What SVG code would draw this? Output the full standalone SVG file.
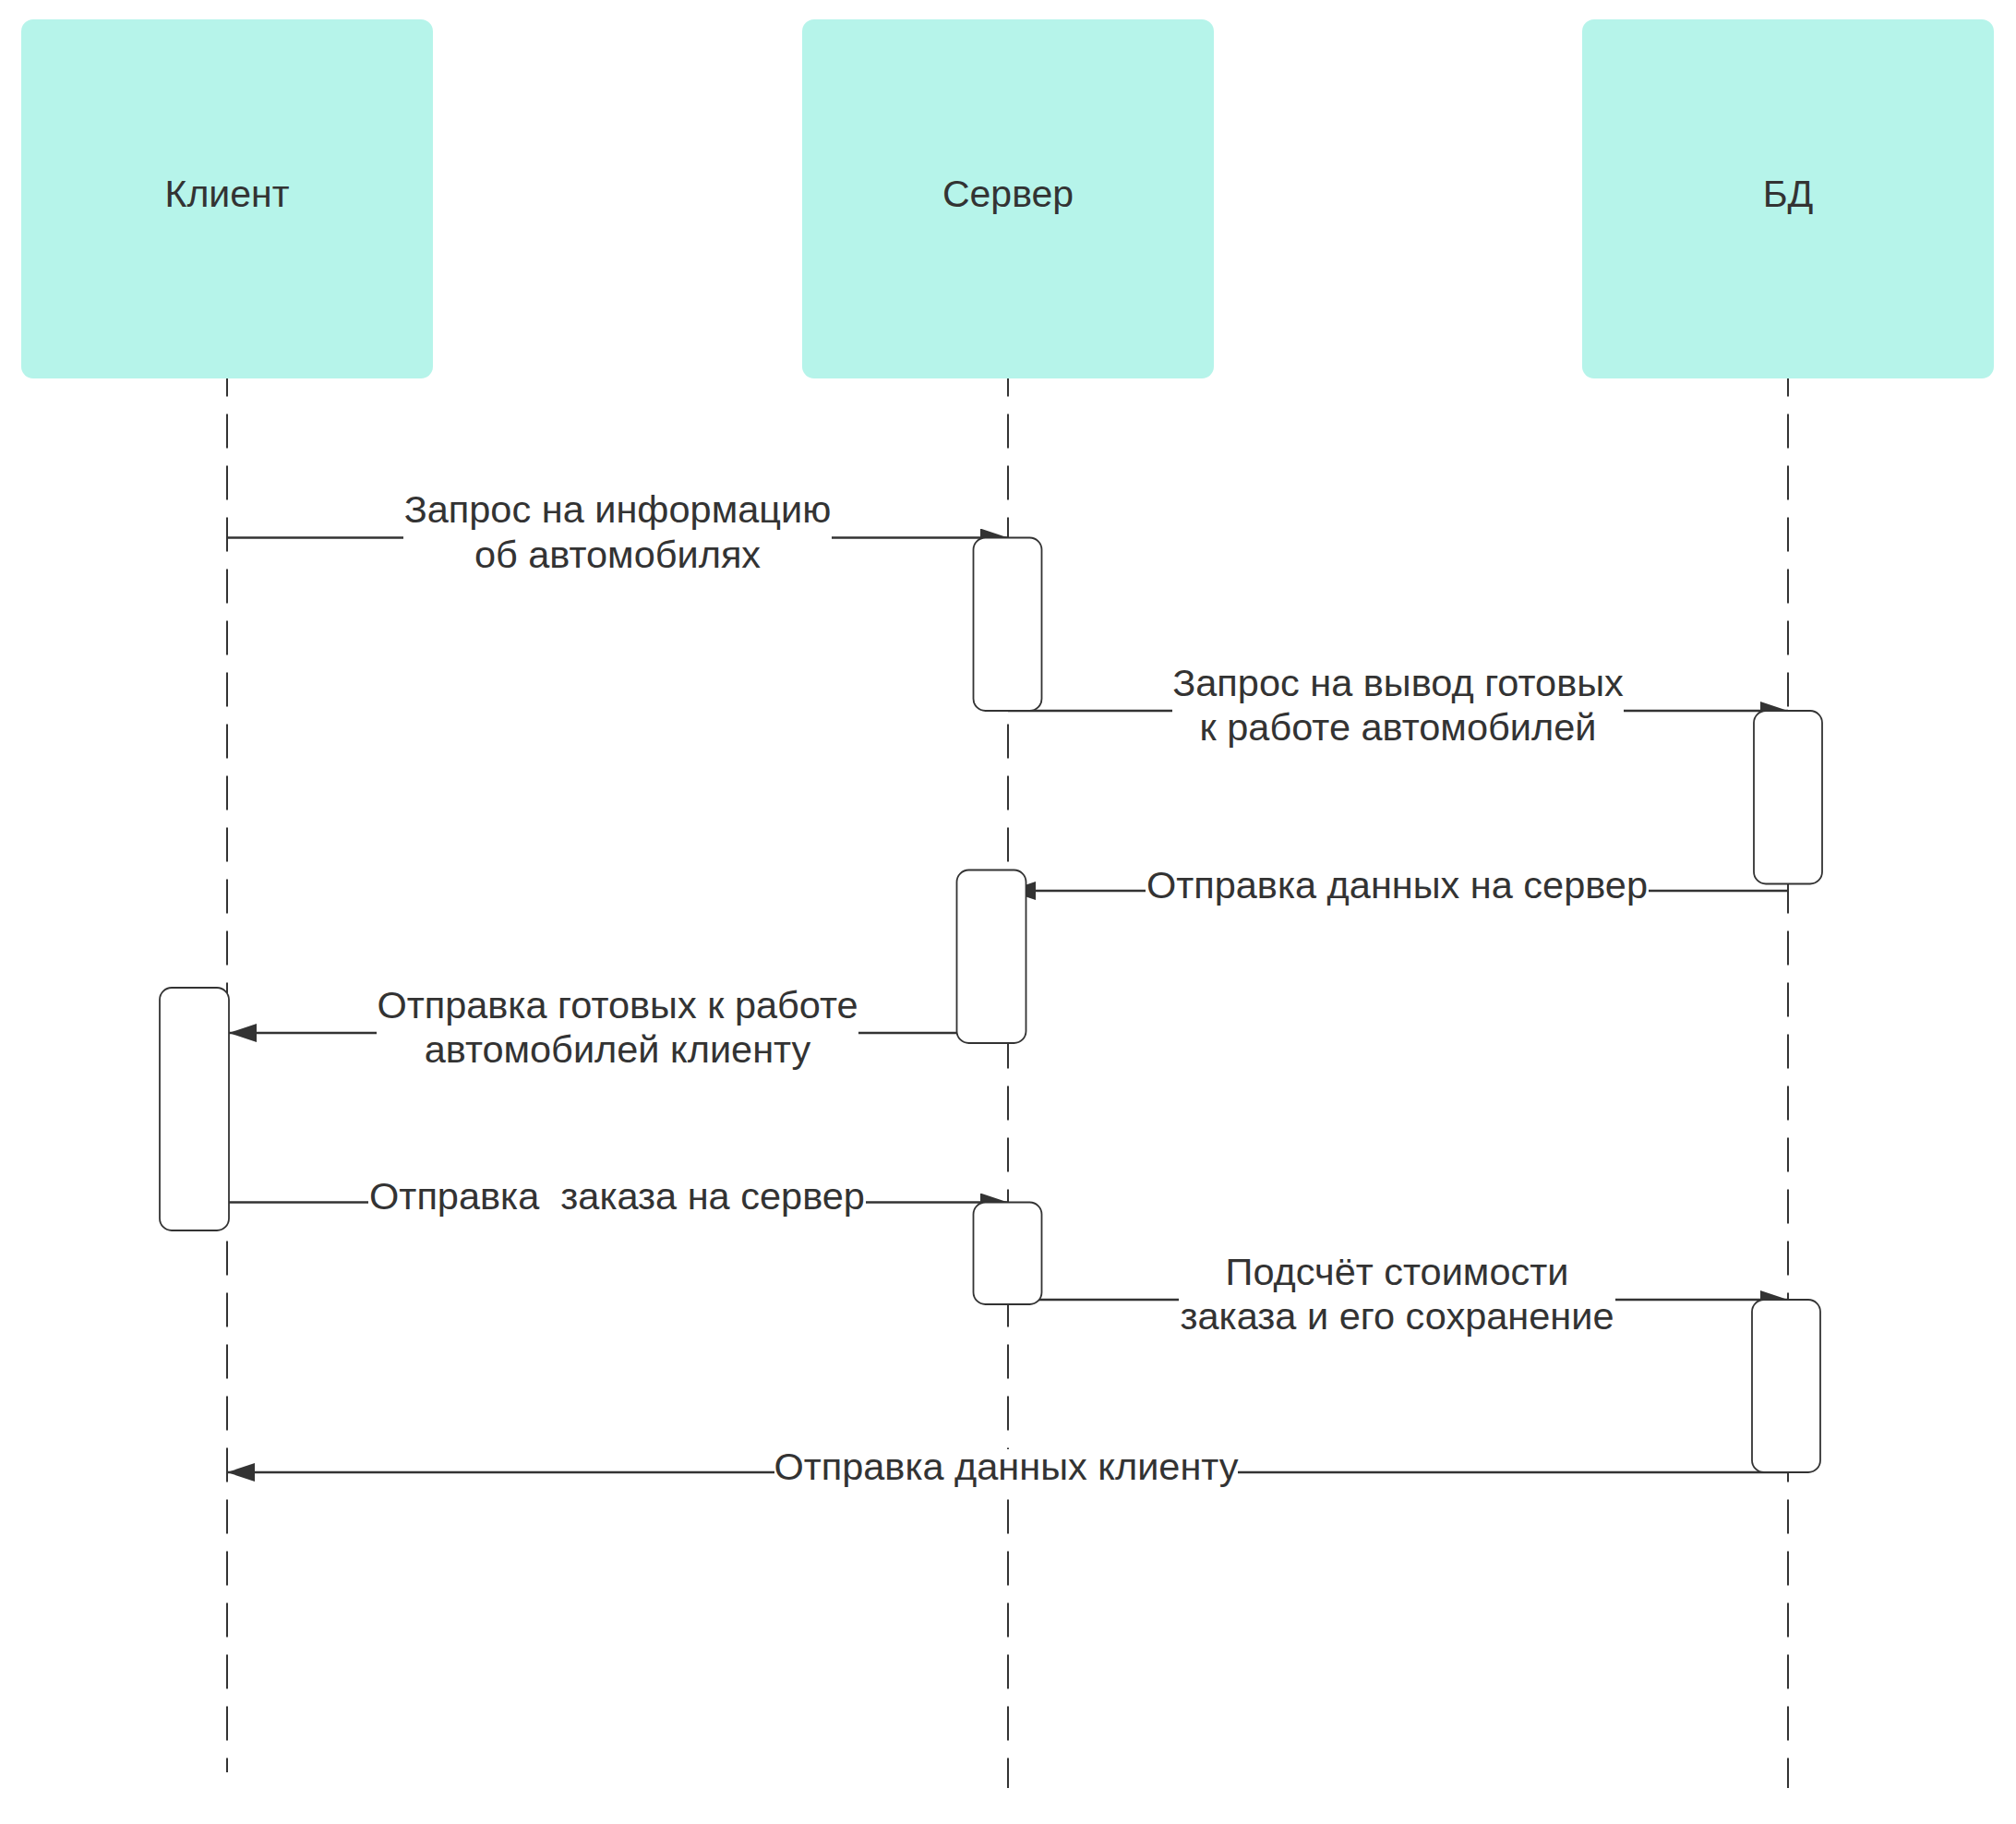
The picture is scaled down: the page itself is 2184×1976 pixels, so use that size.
<svg xmlns="http://www.w3.org/2000/svg" width="2184" height="1976" viewBox="0 0 2184 1976">
  <style>
    .head { fill: #b6f4ea; }
    .title { font-family: "Liberation Sans", Arial, sans-serif; font-size: 41px; fill: #333333; text-anchor: middle; }
    .lbl { font-family: "Liberation Sans", Arial, sans-serif; font-size: 41.5px; fill: #333333; text-anchor: middle; }
    .life { stroke: #333333; stroke-width: 2; stroke-dasharray: 37 19; stroke-dashoffset: 17.5; fill: none; }
    .msg { stroke: #333333; stroke-width: 2.7; fill: none; marker-end: url(#arr); }
    .act { fill: #ffffff; stroke: #333333; stroke-width: 1.8; }
    .bg { fill: #ffffff; }
  </style>
  <defs>
    <marker id="arr" markerUnits="userSpaceOnUse" markerWidth="30" markerHeight="20" refX="30" refY="10" orient="auto">
      <path d="M0,0 L30,10 L0,20 Z" fill="#333333"/>
    </marker>
  </defs>
  <rect width="2184" height="1976" fill="#ffffff"/>

  <g id="client">
    <rect class="head" x="23" y="21" width="446" height="389" rx="13" ry="13"/>
    <text class="title" x="246" y="224">Клиент</text>
    <line class="life" x1="246" y1="410" x2="246" y2="1920"/>
  </g>
  <g id="server">
    <rect class="head" x="869" y="21" width="446" height="389" rx="13" ry="13"/>
    <text class="title" x="1092" y="224">Сервер</text>
    <line class="life" x1="1092" y1="410" x2="1092" y2="1937"/>
  </g>
  <g id="db">
    <rect class="head" x="1714" y="21" width="446" height="389" rx="13" ry="13"/>
    <text class="title" x="1937" y="224">БД</text>
    <line class="life" x1="1937" y1="410" x2="1937" y2="1937"/>
  </g>

  <g id="connectors">
    <g id="m1">
      <line class="msg" x1="246" y1="582.5" x2="1092" y2="582.5"/>
      <rect class="bg" x="437" y="532" width="464" height="94"/>
      <text class="lbl" x="669" y="566">Запрос на информацию</text>
      <text class="lbl" x="669" y="614.5">об автомобилях</text>
    </g>
    <g id="m2">
      <line class="msg" x1="1092" y1="770" x2="1937" y2="770"/>
      <rect class="bg" x="1270" y="720" width="489" height="92"/>
      <text class="lbl" x="1514.5" y="754">Запрос на вывод готовых</text>
      <text class="lbl" x="1514.5" y="802">к работе автомобилей</text>
    </g>
    <g id="m3">
      <line class="msg" x1="1937" y1="965" x2="1092" y2="965"/>
      <rect class="bg" x="1241" y="940" width="545" height="45"/>
      <text class="lbl" x="1513.5" y="973">Отправка данных на сервер</text>
    </g>
    <g id="m4">
      <line class="msg" x1="1092" y1="1119" x2="248" y2="1119"/>
      <rect class="bg" x="408" y="1069" width="522" height="92"/>
      <text class="lbl" x="669" y="1103">Отправка готовых к работе</text>
      <text class="lbl" x="669" y="1151">автомобилей клиенту</text>
    </g>
    <g id="m5">
      <line class="msg" x1="246" y1="1302.5" x2="1092" y2="1302.5"/>
      <rect class="bg" x="399" y="1277" width="539" height="43"/>
      <text class="lbl" x="668.5" y="1310" xml:space="preserve">Отправка  заказа на сервер</text>
    </g>
    <g id="m6">
      <line class="msg" x1="1092" y1="1408" x2="1937" y2="1408"/>
      <rect class="bg" x="1277" y="1358" width="473" height="92"/>
      <text class="lbl" x="1513.5" y="1392">Подсчёт стоимости</text>
      <text class="lbl" x="1513.5" y="1440">заказа и его сохранение</text>
    </g>
    <g id="m7">
      <line class="msg" x1="1937" y1="1595" x2="246" y2="1595"/>
      <rect class="bg" x="839" y="1570" width="502" height="43"/>
      <text class="lbl" x="1090" y="1603">Отправка данных клиенту</text>
    </g>
  </g>

  <g id="activations">
    <rect id="act-server-1" class="act" x="1054.5" y="582.5" width="74" height="187.5" rx="13" ry="13"/>
    <rect id="act-db-1" class="act" x="1900" y="770" width="74" height="187.5" rx="13" ry="13"/>
    <rect id="act-server-2" class="act" x="1036.5" y="942.5" width="75" height="187.5" rx="13" ry="13"/>
    <rect id="act-client-1" class="act" x="173" y="1070" width="75" height="263" rx="13" ry="13"/>
    <rect id="act-server-3" class="act" x="1054.5" y="1302.5" width="74" height="110.5" rx="13" ry="13"/>
    <rect id="act-db-2" class="act" x="1898" y="1408" width="74" height="187" rx="13" ry="13"/>
  </g>
</svg>
